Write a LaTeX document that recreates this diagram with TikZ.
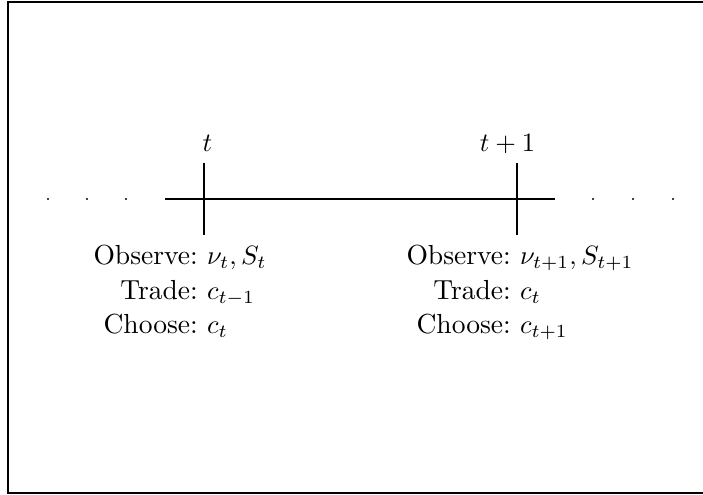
\documentclass[tikz,border=0pt]{standalone}
\usetikzlibrary{positioning}

\begin{document}
\begin{tikzpicture}[
    x=0.3774pt, y=-0.3774pt, % one unit = one pixel of the layout, y downwards
    font=\fontsize{10.4}{13}\selectfont,
    frame/.style={draw, line width=0.8pt},
    axisline/.style={line width=0.4pt},
    timemark/.style={line width=0.4pt},
    timelabel/.style={anchor=base, inner sep=0pt},
    eventlist/.style={anchor=base west, inner sep=0pt}
  ]
    \useasboundingbox (0,0) rectangle (703,495);
    \draw[frame] (8,2) rectangle (712,493);

    % Time axis
    \coordinate (tnow) at (204,199);
    \coordinate (tnext) at (517,199);
    \coordinate (axisL) at (165,199);
    \coordinate (axisR) at (555,199);
    \draw[axisline] (axisL) -- (axisR);
    \draw[timemark] (tnow) ++(0,-36) -- ++(0,72);
    \draw[timemark] (tnext) ++(0,-36) -- ++(0,72);

    % Continuation dots
    \foreach \x in {48,87,126,593,633,673}
      \fill (\x,199) circle (0.45pt);

    % Labels
    \node[timelabel] (labnow) at (207.5,152) {$t$};
    \node[timelabel] (labnext) at (507.5,152) {$t+1$};

    % What happens at each date
    \node[eventlist] (evnow) at (93,265) {\begin{tabular}[t]{@{}r@{\ }l@{}}
        Observe: & $\nu_t, S_t$\\
        Trade: & $c_{t-1}$\\
        Choose: & $c_t$
      \end{tabular}};
    \node[eventlist] (evnext) at (406,265) {\begin{tabular}[t]{@{}r@{\ }l@{}}
        Observe: & $\nu_{t+1}, S_{t+1}$\\
        Trade: & $c_t$\\
        Choose: & $c_{t+1}$
      \end{tabular}};

  \end{tikzpicture}
\end{document}
